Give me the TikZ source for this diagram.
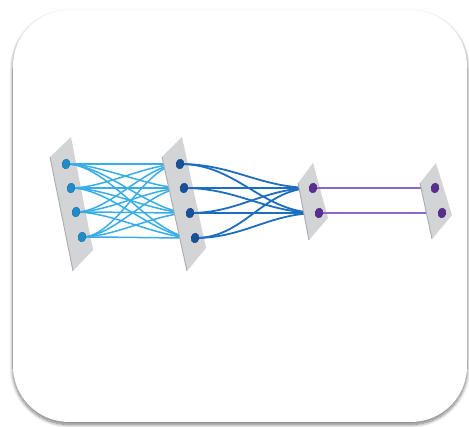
\documentclass[tikz,border=0pt]{standalone}
\usetikzlibrary{shadows.blur,shapes.geometric}

\definecolor{panelgray}{HTML}{D3D4D6}
\definecolor{paneledge}{HTML}{ABACAF}
\definecolor{linkA}{HTML}{38ADE6}
\definecolor{dotA}{HTML}{1E8CCB}
\definecolor{linkB}{HTML}{1D6DC0}
\definecolor{dotB}{HTML}{17519C}
\definecolor{linkC}{HTML}{8C66C8}
\definecolor{dotC}{HTML}{5A2E90}

\tikzset{
  card/.style={fill=white, rounded corners=56pt,
    blur shadow={shadow xshift=0pt, shadow yshift=-2.5pt,
      shadow blur radius=3.5pt, shadow blur steps=12, shadow opacity=55}},
  panel/.style={fill=panelgray},
  paneledge/.style={draw=paneledge, line width=0.9pt},
  dot/.style={ellipse, minimum width=8pt, minimum height=10pt,
    inner sep=0pt, rotate=-12},
  dotA/.style={dot, fill=dotA, draw=dotA!70!black, line width=0.3pt},
  dotB/.style={dot, fill=dotB, draw=dotB!70!black, line width=0.3pt},
  dotC/.style={dot, fill=dotC, draw=dotC!70!black, line width=0.3pt},
  linkA/.style={draw=linkA, line width=1.5pt, out=0, in=180, looseness=0.75},
  linkB/.style={draw=linkB, line width=1.8pt, out=0, in=180, looseness=1},
  linkC/.style={draw=linkC, line width=1.4pt},
}

\begin{document}
\begin{tikzpicture}[x=1pt, y=-1pt]
  \useasboundingbox (0,0) rectangle (469,427);

  % card
  \path[card] (13,10) rectangle (467,422);

  % unit centres of the four layers
  \coordinate (a1) at (66,164);  \coordinate (a2) at (71,188);
  \coordinate (a3) at (76,212);  \coordinate (a4) at (82,237);
  \coordinate (b1) at (180,164); \coordinate (b2) at (184,188);
  \coordinate (b3) at (190,213); \coordinate (b4) at (195,238);
  \coordinate (c1) at (313,188); \coordinate (c2) at (319,213);
  \coordinate (d1) at (435,188); \coordinate (d2) at (442,213);

  % layer 1
  \fill[panel] (50,157) -- (71,137) -- (93,250) -- (73,271) -- cycle;
  \draw[paneledge] (50,157) -- (73,271);

  % fully connected links 1 -> 2
  \foreach \i in {1,...,4}
    \foreach \j in {1,...,4}
      \draw[linkA] (a\i) to (b\j);
  \foreach \i in {1,...,4}
    \node[dotA] (na\i) at (a\i) {};

  % layer 2
  \fill[panel] (162,157) -- (182,137) -- (206,248) -- (187,271) -- cycle;
  \draw[paneledge] (162,157) -- (187,271);

  % links 2 -> 3
  \foreach \i in {1,...,4}
    \foreach \j in {1,2}
      \draw[linkB] (b\i) to (c\j);
  \foreach \i in {1,...,4}
    \node[dotB] (nb\i) at (b\i) {};

  % layer 3
  \fill[panel] (298,183) -- (313,163) -- (328,218) -- (309,240) -- cycle;
  \draw[paneledge] (298,183) -- (309,240);

  % links 3 -> 4
  \draw[linkC] (c1) -- (d1);
  \draw[linkC] (c2) -- (d2);
  \foreach \i in {1,2}
    \node[dotC] (nc\i) at (c\i) {};

  % layer 4
  \fill[panel] (420,183) -- (436,163) -- (452,215) -- (432,239) -- cycle;
  \draw[paneledge] (420,183) -- (432,239);
  \foreach \i in {1,2}
    \node[dotC] (nd\i) at (d\i) {};
\end{tikzpicture}
\end{document}
